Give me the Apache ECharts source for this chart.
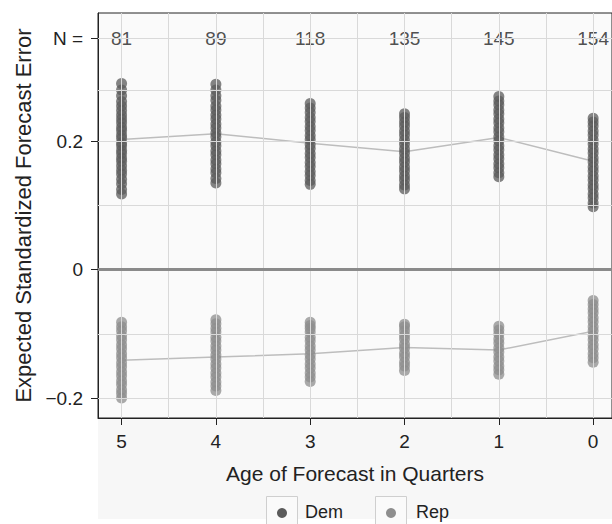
<!DOCTYPE html>
<html>
<head>
<meta charset="utf-8">
<script src="https://cdn.jsdelivr.net/npm/echarts@6/dist/echarts.min.js"></script>
<style>
html,body{margin:0;padding:0;background:#ffffff;}
#chart{width:612px;height:524px;}
</style>
</head>
<body>
<div id="chart"></div>
<script>
// ---- data ----
const ages = [5, 4, 3, 2, 1, 0];
const nCounts = [81, 89, 118, 135, 145, 154];
const demMean = [0.203, 0.212, 0.197, 0.184, 0.206, 0.169];
const repMean = [-0.141, -0.136, -0.131, -0.121, -0.125, -0.096];
const demAge5 = [0.118, 0.125, 0.134, 0.141, 0.149, 0.155, 0.162, 0.169, 0.174, 0.181, 0.186, 0.193, 0.198, 0.205, 0.21, 0.217, 0.222, 0.229, 0.235, 0.241, 0.248, 0.255, 0.262, 0.271, 0.28, 0.29];
const demAge4 = [0.135, 0.142, 0.151, 0.157, 0.165, 0.171, 0.179, 0.185, 0.193, 0.199, 0.207, 0.213, 0.221, 0.227, 0.235, 0.241, 0.249, 0.255, 0.264, 0.271, 0.28, 0.289];
const demAge3 = [0.133, 0.139, 0.147, 0.153, 0.161, 0.167, 0.175, 0.181, 0.189, 0.195, 0.203, 0.209, 0.217, 0.223, 0.231, 0.237, 0.245, 0.252, 0.259];
const demAge2 = [0.126, 0.132, 0.14, 0.146, 0.154, 0.16, 0.168, 0.174, 0.182, 0.188, 0.196, 0.202, 0.21, 0.216, 0.224, 0.23, 0.237, 0.243];
const demAge1 = [0.145, 0.151, 0.159, 0.165, 0.173, 0.179, 0.187, 0.193, 0.201, 0.207, 0.215, 0.221, 0.229, 0.235, 0.243, 0.249, 0.257, 0.263, 0.27];
const demAge0 = [0.098, 0.104, 0.112, 0.118, 0.126, 0.132, 0.14, 0.146, 0.154, 0.16, 0.168, 0.174, 0.182, 0.188, 0.196, 0.202, 0.21, 0.216, 0.224, 0.23, 0.236];
const repAge5 = [-0.2, -0.193, -0.187, -0.179, -0.173, -0.165, -0.159, -0.151, -0.145, -0.137, -0.131, -0.123, -0.117, -0.109, -0.103, -0.095, -0.089, -0.082];
const repAge4 = [-0.188, -0.181, -0.175, -0.167, -0.161, -0.153, -0.147, -0.139, -0.133, -0.125, -0.119, -0.111, -0.105, -0.097, -0.091, -0.084, -0.078];
const repAge3 = [-0.174, -0.167, -0.161, -0.153, -0.147, -0.139, -0.133, -0.125, -0.119, -0.111, -0.105, -0.097, -0.091, -0.087, -0.082];
const repAge2 = [-0.157, -0.15, -0.144, -0.136, -0.13, -0.122, -0.116, -0.108, -0.102, -0.095, -0.089, -0.085];
const repAge1 = [-0.163, -0.156, -0.15, -0.142, -0.136, -0.128, -0.122, -0.114, -0.108, -0.1, -0.094, -0.088];
const repAge0 = [-0.144, -0.137, -0.131, -0.123, -0.117, -0.109, -0.103, -0.095, -0.089, -0.081, -0.075, -0.067, -0.061, -0.054, -0.048];
const yTickValues = [-0.2, 0, 0.2, 0.36];
const yTickLabels = ['\u22120.2', '0', '0.2', 'N ='];
const hGridValues = [-0.2, -0.1, 0.1, 0.2, 0.28, 0.36];
const vGridValues = [0, 0.5, 1, 1.5, 2, 2.5, 3, 3.5, 4, 4.5, 5];
const nRowValue = 0.36;
const seriesNames = ['Dem', 'Rep'];

const demCols = [demAge5, demAge4, demAge3, demAge2, demAge1, demAge0];
const repCols = [repAge5, repAge4, repAge3, repAge2, repAge1, repAge0];
function toPoints(cols) {
  const out = [];
  cols.forEach((col, i) => col.forEach(v => out.push([ages[i], v])));
  return out;
}

const FONT = 'Liberation Sans';
const demColor = '#5b5b5b';
const repColor = '#8e8e8e';
const chart = echarts.init(document.getElementById('chart'), null, {renderer: 'svg'});

chart.setOption({
  animation: false,
  backgroundColor: '#ffffff',
  textStyle: {fontFamily: FONT},
  graphic: [
    {type: 'rect', z: -10, shape: {x: 98, y: 418, width: 514, height: 101}, style: {fill: '#f7f7f7'}},
    {type: 'rect', shape: {x: 266.5, y: 496.5, width: 31, height: 32}, style: {fill: '#fafafa', stroke: '#cfcfcf', lineWidth: 1}},
    {type: 'circle', shape: {cx: 282, cy: 513, r: 5}, style: {fill: demColor}},
    {type: 'text', left: 305, top: 503, style: {text: seriesNames[0], font: '18px "Liberation Sans"', fill: '#222'}},
    {type: 'rect', shape: {x: 375.5, y: 496.5, width: 31, height: 32}, style: {fill: '#fafafa', stroke: '#cfcfcf', lineWidth: 1}},
    {type: 'circle', shape: {cx: 391, cy: 513, r: 5}, style: {fill: repColor}},
    {type: 'text', left: 416, top: 503, style: {text: seriesNames[1], font: '18px "Liberation Sans"', fill: '#222'}}
  ],
  grid: {
    left: 98, top: 13, right: -3, bottom: 106,
    show: true, backgroundColor: '#fafafa', borderColor: '#222', borderWidth: 1
  },
  xAxis: {
    type: 'value', inverse: true, min: -0.2, max: 5.25,
    name: 'Age of Forecast in Quarters', nameLocation: 'middle', nameGap: 45,
    nameTextStyle: {fontSize: 21, color: '#222', fontFamily: FONT},
    axisLine: {show: true, onZero: false, lineStyle: {color: '#222', width: 1}},
    axisTick: {show: true, length: 7, lineStyle: {color: '#222'}, customValues: ages},
    axisLabel: {show: true, fontSize: 19, color: '#222', margin: 14, customValues: ages, fontFamily: FONT},
    splitLine: {show: false}
  },
  yAxis: {
    type: 'value', min: -0.231, max: 0.4,
    name: 'Expected Standardized Forecast Error', nameLocation: 'middle', nameGap: 64,
    nameTextStyle: {fontSize: 22, color: '#222', fontFamily: FONT},
    axisLine: {show: true, onZero: false, lineStyle: {color: '#222', width: 1}},
    axisTick: {show: true, length: 7, lineStyle: {color: '#222'}, customValues: yTickValues},
    axisLabel: {
      show: true, fontSize: 19, color: '#222', margin: 15, fontFamily: FONT,
      customValues: yTickValues,
      formatter: function (v) {
        const i = yTickValues.findIndex(t => Math.abs(t - v) < 1e-9);
        return i >= 0 ? yTickLabels[i] : '';
      }
    },
    splitLine: {show: false}
  },
  series: [
    {
      type: 'line', data: [], z: 1, silent: true,
      markLine: {
        silent: true, symbol: ['none', 'none'], label: {show: false},
        lineStyle: {color: '#d9d9d9', width: 1, type: 'solid'},
        data: vGridValues.map(v => ({xAxis: v})).concat(hGridValues.map(v => ({yAxis: v})))
      }
    },
    {
      type: 'line', data: [], z: 1, silent: true,
      markLine: {
        silent: true, symbol: ['none', 'none'], label: {show: false},
        lineStyle: {color: '#8a8a8a', width: 3, type: 'solid'},
        data: [{yAxis: 0}]
      }
    },
    {
      name: 'Dem mean', type: 'line', z: 2, symbol: 'none', silent: true,
      lineStyle: {color: '#bdbdbd', width: 1.5},
      data: ages.map((a, i) => [a, demMean[i]])
    },
    {
      name: 'Rep mean', type: 'line', z: 2, symbol: 'none', silent: true,
      lineStyle: {color: '#bdbdbd', width: 1.5},
      data: ages.map((a, i) => [a, repMean[i]])
    },
    {
      name: seriesNames[0], type: 'scatter', z: 3, symbolSize: 11,
      itemStyle: {color: demColor, opacity: 0.75},
      data: toPoints(demCols)
    },
    {
      name: seriesNames[1], type: 'scatter', z: 3, symbolSize: 11,
      itemStyle: {color: repColor, opacity: 0.75},
      data: toPoints(repCols)
    },
    {
      type: 'scatter', z: 4, symbolSize: 0, silent: true,
      data: ages.map((a, i) => [a, nRowValue, nCounts[i]]),
      label: {
        show: true, position: 'inside', fontSize: 19, color: '#222', fontFamily: FONT,
        formatter: p => String(p.value[2])
      }
    }
  ]
});
</script>
</body>
</html>
